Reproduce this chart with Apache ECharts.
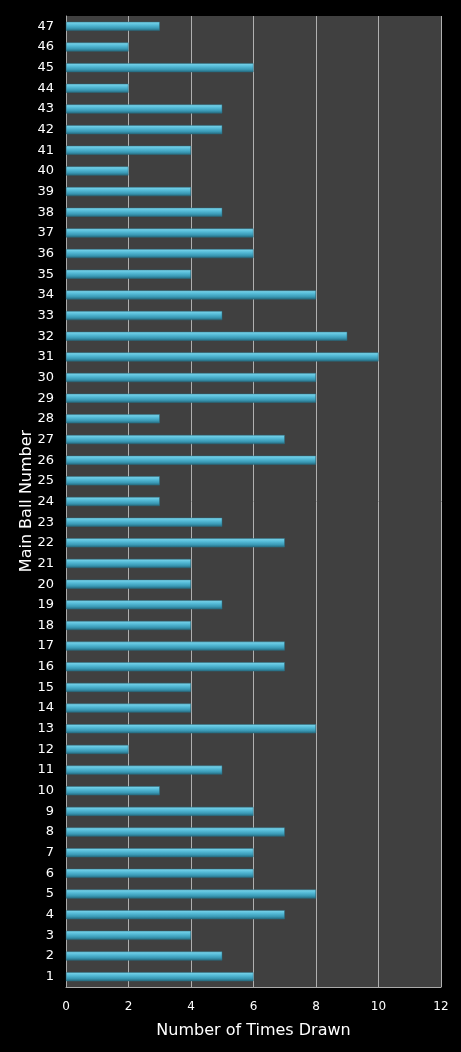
<!DOCTYPE html>
<html>
<head>
<meta charset="utf-8">
<script src="https://cdn.jsdelivr.net/npm/echarts@6/dist/echarts.min.js"></script>
<style>
  html, body { margin: 0; padding: 0; background: #000; }
  #main { width: 461px; height: 1052px; }
</style>
</head>
<body>
<div id="main"></div>
<script>
// ball numbers 1..47 (bottom to top)
var ballNumbers = [];
for (var n = 1; n <= 47; n++) ballNumbers.push(String(n));

// times drawn, for balls 1..47
var timesDrawn = [
  6, 5, 4, 7, 8, 6, 6, 7, 6, 3,
  5, 2, 8, 4, 4, 7, 7, 4, 5, 4,
  4, 7, 5, 3, 3, 8, 7, 3, 8, 8,
  10, 9, 5, 8, 4, 6, 6, 5, 4, 2,
  4, 5, 5, 2, 6, 2, 3
];

var xTicks = [0, 2, 4, 6, 8, 10, 12];

var chart = echarts.init(document.getElementById('main'));
chart.setOption({
  backgroundColor: '#000',
  animation: false,
  grid: {
    left: 66, right: 20, top: 16, bottom: 65,
    show: true, backgroundColor: '#404040', borderWidth: 0
  },
  graphic: [{
    type: 'text',
    x: 27, y: 501,
    rotation: Math.PI / 2,
    style: {
      text: 'Main Ball Number',
      fill: '#fff',
      font: '16px "DejaVu Sans"',
      align: 'center',
      verticalAlign: 'middle'
    }
  }],
  xAxis: {
    type: 'value',
    min: xTicks[0], max: xTicks[xTicks.length - 1], interval: 2,
    name: 'Number of Times Drawn',
    nameLocation: 'middle', nameGap: 36,
    nameTextStyle: { color: '#fff', fontSize: 16, fontFamily: 'DejaVu Sans' },
    axisLine: { show: true, lineStyle: { color: '#aaa', width: 1 } },
    axisTick: { show: false },
    axisLabel: { color: '#fff', fontSize: 12, fontFamily: 'DejaVu Sans', margin: 14 },
    splitLine: { show: true, lineStyle: { color: '#b0b0b0', width: 1 } }
  },
  yAxis: {
    type: 'category',
    data: ballNumbers,
    axisLine: { show: true, lineStyle: { color: '#aaa', width: 1 } },
    axisTick: { show: false },
    axisLabel: { color: '#fff', fontSize: 13, fontFamily: 'DejaVu Sans', margin: 12, interval: 0 },
    splitLine: { show: false }
  },
  series: [{
    type: 'bar',
    data: timesDrawn,
    barWidth: 9,
    itemStyle: {
      color: new echarts.graphic.LinearGradient(0, 0, 0, 1, [
        { offset: 0, color: '#7fd8ee' },
        { offset: 0.35, color: '#56bcd8' },
        { offset: 0.7, color: '#3a9ab6' },
        { offset: 1, color: '#25697d' }
      ]),
      borderColor: '#2a6e82',
      borderWidth: 0.5
    }
  }]
});
</script>
</body>
</html>
